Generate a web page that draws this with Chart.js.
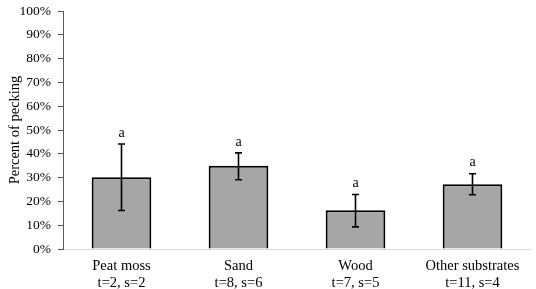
<!DOCTYPE html>
<html><head><meta charset="utf-8">
<script src="https://cdn.jsdelivr.net/npm/chart.js@4"></script>
<style>html,body{margin:0;padding:0;background:#fff}#w{width:536px;height:289px}</style>
</head><body><div id="w"><canvas id="c"></canvas></div>
<script>
const categories = [["Peat moss","t=2, s=2"],["Sand","t=8, s=6"],["Wood","t=7, s=5"],["Other substrates","t=11, s=4"]];
const values = [30.1, 35.0, 16.3, 27.2];
const errHigh = [44.1, 40.4, 22.9, 31.6];
const errLow = [16.2, 29.1, 9.3, 22.8];
const letters = ["a","a","a","a"];
const yTicks = [0,10,20,30,40,50,60,70,80,90,100];
const FONT = "'Liberation Serif', serif";

const errPlugin = {
  id: 'err',
  afterDatasetsDraw(chart) {
    const ctx = chart.ctx, x = chart.scales.x, y = chart.scales.y;
    ctx.save();
    ctx.strokeStyle = '#000'; ctx.lineWidth = 1.6;
    values.forEach((v, i) => {
      const cx = x.getPixelForValue(i);
      const yt = y.getPixelForValue(errHigh[i]), yb = y.getPixelForValue(errLow[i]);
      ctx.beginPath();
      ctx.moveTo(cx, yt); ctx.lineTo(cx, yb);
      ctx.moveTo(cx - 3.5, yt); ctx.lineTo(cx + 3.5, yt);
      ctx.moveTo(cx - 3.5, yb); ctx.lineTo(cx + 3.5, yb);
      ctx.stroke();
      ctx.fillStyle = '#000';
      ctx.font = "14px " + FONT;
      ctx.textAlign = 'center'; ctx.textBaseline = 'bottom';
      ctx.fillText(letters[i], cx, yt - 4);
    });
    ctx.restore();
  }
};

new Chart(document.getElementById('c'), {
  type: 'bar',
  data: { labels: categories, datasets: [{ data: values, backgroundColor: '#a6a6a6', borderColor: '#000', borderWidth: 2, barPercentage: 0.51, categoryPercentage: 1 }] },
  options: {
    responsive: true, maintainAspectRatio: false, animation: false,
    layout: { padding: { top: 11, right: 5, left: 0, bottom: 0 } },
    plugins: { legend: { display: false }, tooltip: { enabled: false } },
    scales: {
      x: {
        grid: { display: false, drawTicks: false },
        border: { display: true, color: '#d9d9d9', width: 1 },
        ticks: { color: '#000', font: { family: FONT, size: 14.5 }, padding: 8, maxRotation: 0, autoSkip: false, lineHeight: 0.92 },
        afterFit(s) { s.height = 40; s.paddingLeft = 0; s.paddingRight = 0; }
      },
      y: {
        min: 0, max: 100,
        afterBuildTicks(s) { s.ticks = yTicks.map(v => ({ value: v })); },
        grid: { drawOnChartArea: false, drawTicks: true, tickLength: 5, color: '#595959' },
        border: { display: true, color: '#595959', width: 1 },
        ticks: { color: '#000', font: { family: FONT, size: 13.5 }, padding: 7, callback: v => v + '%' },
        title: { display: true, text: 'Percent of pecking', color: '#000', font: { family: FONT, size: 14.5 }, padding: { top: 6, bottom: 0 } },
        afterFit(s) { s.width = 63; s.paddingTop = 0; s.paddingBottom = 0; }
      }
    }
  },
  plugins: [errPlugin]
});
</script></body></html>
